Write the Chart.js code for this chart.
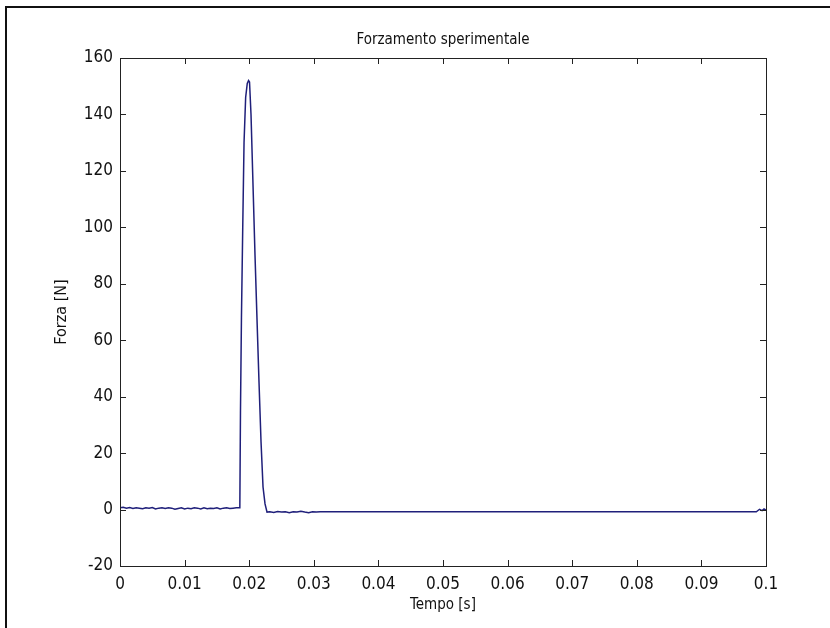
<!DOCTYPE html>
<html>
<head>
<meta charset="utf-8">
<title>Forzamento sperimentale</title>
<script src="https://cdn.jsdelivr.net/npm/chart.js@4.4.1/dist/chart.umd.min.js"></script>
<style>
  html, body { margin: 0; padding: 0; background: #fff; }
  #wrap { width: 830px; height: 628px; }
</style>
</head>
<body>
<div id="wrap"><canvas id="forceChart" width="830" height="628"></canvas></div>
<script>
// Time samples (s)
const tempo = [
  0, 0.0005, 0.001, 0.0015, 0.002, 0.0025, 0.003, 0.0035, 0.004, 0.0045,
  0.005, 0.0055, 0.006, 0.0065, 0.007, 0.0075, 0.008, 0.0085, 0.009, 0.0095,
  0.010, 0.0105, 0.011, 0.0115, 0.012, 0.0125, 0.013, 0.0135, 0.014, 0.0145,
  0.015, 0.0155, 0.016, 0.0165, 0.017, 0.0175, 0.018, 0.01855,
  0.01865, 0.0188, 0.019, 0.0192, 0.01945, 0.0197, 0.0199, 0.02005,
  0.02028, 0.02059, 0.0209, 0.0212, 0.02152, 0.02183, 0.02214, 0.02245, 0.02276,
  0.0232, 0.0238, 0.0244, 0.025, 0.0256, 0.0262, 0.0268, 0.0274, 0.028, 0.0286,
  0.0292, 0.0298, 0.0304, 0.031, 0.04, 0.05, 0.06, 0.07, 0.08, 0.09,
  0.0985, 0.099, 0.0994, 0.0997, 0.1
];

// Measured force (N)
const forza = [
  0.6, 0.8, 0.5, 0.7, 0.4, 0.6, 0.5, 0.3, 0.6, 0.5,
  0.7, 0.2, 0.5, 0.6, 0.4, 0.6, 0.5, 0.1, 0.4, 0.6,
  0.2, 0.5, 0.3, 0.6, 0.5, 0.2, 0.6, 0.3, 0.5, 0.4,
  0.6, 0.2, 0.5, 0.6, 0.4, 0.5, 0.6, 0.6,
  35, 68, 100, 130, 146, 151, 152, 151.5,
  140, 115, 90, 68, 45, 24, 8, 2, -0.9,
  -0.8, -1.0, -0.7, -0.9, -0.8, -1.1, -0.8, -0.9, -0.6, -0.9,
  -1.1, -0.8, -0.9, -0.8, -0.8, -0.8, -0.8, -0.8, -0.8, -0.8,
  -0.8, 0.1, -0.4, 0.2, -0.2
];

// Axis ranges and steps
const xRange = [0, 0.1];
const xStep = 0.01;
const yRange = [-20, 160];
const yStep = 20;

const fontFamily = "'Liberation Sans Narrow', 'DejaVu Sans Condensed', 'Liberation Sans', Arial, sans-serif";
const textColor = "#111";
const lineColor = "#1f1f7a";

// Draws the outer frame, the axes box and the inward tick marks (MATLAB look)
const boxPlugin = {
  id: "boxPlugin",
  beforeDraw(chart) {
    const ctx = chart.ctx;
    ctx.save();
    ctx.fillStyle = "#111";
    ctx.fillRect(5, 6, 825, 2);
    ctx.fillRect(5, 6, 2, 622);
    ctx.restore();
  },
  afterDraw(chart) {
    const { ctx, chartArea: a, scales } = chart;
    const len = 6;
    ctx.save();
    ctx.strokeStyle = "#222";
    ctx.lineWidth = 1;
    ctx.strokeRect(Math.round(a.left) + 0.5, Math.round(a.top) + 0.5,
      Math.round(a.right - a.left), Math.round(a.bottom - a.top));
    ctx.beginPath();
    scales.x.ticks.forEach((t) => {
      const px = Math.round(scales.x.getPixelForValue(t.value)) + 0.5;
      ctx.moveTo(px, a.bottom);
      ctx.lineTo(px, a.bottom - len);
      ctx.moveTo(px, a.top);
      ctx.lineTo(px, a.top + len);
    });
    scales.y.ticks.forEach((t) => {
      const py = Math.round(scales.y.getPixelForValue(t.value)) + 0.5;
      ctx.moveTo(a.left, py);
      ctx.lineTo(a.left + len, py);
      ctx.moveTo(a.right, py);
      ctx.lineTo(a.right - len, py);
    });
    ctx.stroke();
    ctx.restore();
  },
};

const ctx = document.getElementById("forceChart").getContext("2d");
new Chart(ctx, {
  type: "line",
  data: {
    datasets: [{
      data: tempo.map((t, i) => ({ x: t, y: forza[i] })),
      borderColor: lineColor,
      borderWidth: 1.5,
      pointRadius: 0,
      tension: 0,
      fill: false,
    }],
  },
  options: {
    responsive: false,
    animation: false,
    devicePixelRatio: 1,
    layout: { padding: { left: 0, right: 64, top: 0, bottom: 0 } },
    plugins: {
      legend: { display: false },
      tooltip: { enabled: false },
    },
    scales: {
      x: {
        type: "linear",
        min: xRange[0],
        max: xRange[1],
        grid: { display: false, drawTicks: false },
        border: { display: false },
        ticks: {
          stepSize: xStep,
          color: textColor,
          padding: 8,
          maxRotation: 0,
          font: { family: fontFamily, size: 17 },
          callback: (v) => String(Number(v.toFixed(4))),
        },
        title: {
          display: true,
          text: "Tempo [s]",
          color: textColor,
          font: { family: fontFamily, size: 15 },
          padding: { top: 0, bottom: 14 },
        },
        afterFit: (scale) => { scale.height = 62; },
      },
      // top axis only carries the plot title, centred over the axes box
      xTop: {
        type: "linear",
        position: "top",
        min: xRange[0],
        max: xRange[1],
        grid: { display: false, drawTicks: false },
        border: { display: false },
        ticks: { display: false },
        title: {
          display: true,
          text: "Forzamento sperimentale",
          color: textColor,
          font: { family: fontFamily, size: 15 },
          padding: { top: 31, bottom: 0 },
        },
        afterFit: (scale) => { scale.height = 58; },
      },
      y: {
        min: yRange[0],
        max: yRange[1],
        grid: { display: false, drawTicks: false },
        border: { display: false },
        ticks: {
          stepSize: yStep,
          color: textColor,
          padding: 7,
          font: { family: fontFamily, size: 17 },
        },
        title: {
          display: true,
          text: "Forza [N]",
          color: textColor,
          font: { family: fontFamily, size: 16 },
          padding: { top: 52, bottom: 0 },
        },
        afterFit: (scale) => { scale.width = 120; },
      },
    },
  },
  plugins: [boxPlugin],
});
</script>
</body>
</html>
